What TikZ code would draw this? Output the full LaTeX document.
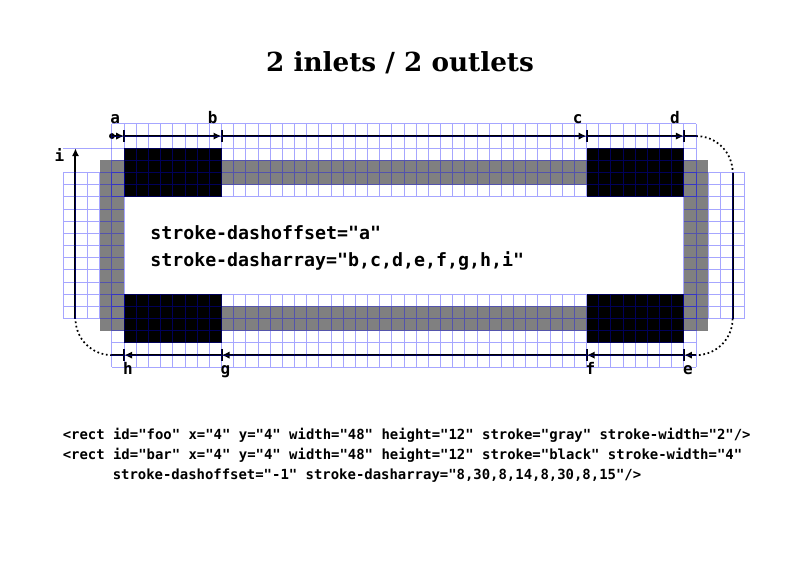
\documentclass[tikz,border=0pt]{standalone}
\usepackage{fontspec}
\newfontfamily\cdfont{DejaVu Sans Mono}
\newfontfamily\ttlfont{DejaVu Serif}
\usetikzlibrary{arrows.meta,positioning}

\begin{document}
\begin{tikzpicture}[
    x=0.75pt, y=-0.75pt,
    >={Latex[length=6pt,width=5.5pt]},
    headline/.style={anchor=base, inner sep=0pt, font=\ttlfont\bfseries\fontsize{19.7}{23}\selectfont},
    dashtext/.style={anchor=base west, inner sep=0pt, font=\cdfont\bfseries\fontsize{13.7}{16}\selectfont},
    codeline/.style={anchor=base west, inner sep=0pt, font=\cdfont\bfseries\fontsize{10.45}{13}\selectfont},
    marklabel/.style={inner sep=0pt, font=\cdfont\bfseries\fontsize{12}{14}\selectfont},
    gridline/.style={draw=blue, draw opacity=0.35, line width=0.75pt},
    dimline/.style={draw=black, line width=1.5pt},
    dimdot/.style={draw=black, line width=1.3pt, dotted},
    tickbar/.style={draw=black, line width=1.5pt}
  ]
  \useasboundingbox (0,0) rectangle (800,566);

  \node[headline] (title) at (400,72) {2 inlets / 2 outlets};

  % grid units: 1 unit = 12.17px
  \begin{scope}[shift={(63.3,123.9)}, x=9.1275pt, y=-9.1275pt]
    % the two strokes
    \draw[gray, line width=18.255pt] (4,4) rectangle (52,16);
    \draw[black, line width=36.51pt,
      dash pattern=on 73.02pt off 273.825pt on 73.02pt off 127.785pt on 73.02pt off 273.825pt on 73.02pt off 136.9125pt,
      dash phase=1095.3pt] (4,4) -- (52,4) -- (52,16) -- (4,16) -- cycle;

    \coordinate (t0) at (4,1);
    \coordinate (t1) at (5,1);
    \coordinate (t2) at (13,1);
    \coordinate (t3) at (43,1);
    \coordinate (t4) at (51,1);
    \coordinate (t5) at (52,1);
    \coordinate (r1) at (55,4);
    \coordinate (r2) at (55,16);
    \coordinate (b0) at (52,19);
    \coordinate (b1) at (51,19);
    \coordinate (b2) at (43,19);
    \coordinate (b3) at (13,19);
    \coordinate (b4) at (5,19);
    \coordinate (b5) at (4,19);
    \coordinate (l1) at (1,16);
    \coordinate (l2) at (1,2);

    % measuring path
    \fill (t0) circle[radius=2.2pt];
    \draw[dimline, ->] (t0) -- (t1);
    \draw[dimline, ->] (t1) -- (t2);
    \draw[dimline, ->] (t2) -- (t3);
    \draw[dimline, ->] (t3) -- (t4);
    \draw[dimline] (t4) -- (t5);
    \draw[dimdot] (t5) arc[start angle=-90, end angle=0, radius=3];
    \draw[dimline] (r1) -- (r2);
    \draw[dimdot] (r2) arc[start angle=0, end angle=90, radius=3];
    \draw[dimline, ->] (b0) -- (b1);
    \draw[dimline, ->] (b1) -- (b2);
    \draw[dimline, ->] (b2) -- (b3);
    \draw[dimline, ->] (b3) -- (b4);
    \draw[dimline] (b4) -- (b5);
    \draw[dimdot] (b5) arc[start angle=90, end angle=180, radius=3];
    \draw[dimline, ->] (l1) -- (l2);
    \foreach \t in {t1,t2,t3,t4,b1,b2,b3,b4}
      \draw[tickbar] ([yshift=4.6pt]\t) -- ([yshift=-4.6pt]\t);

    % grid on top
    \draw[gridline] \foreach \gx in {4,...,52} {(\gx,0) -- (\gx,6)}
                    \foreach \gy in {0,...,6} {(4,\gy) -- (52,\gy)};
    \draw[gridline] \foreach \gx in {4,...,52} {(\gx,14) -- (\gx,20)}
                    \foreach \gy in {14,...,20} {(4,\gy) -- (52,\gy)};
    \draw[gridline] \foreach \gx in {0,...,5} {(\gx,4) -- (\gx,16)}
                    \foreach \gy in {4,...,16} {(0,\gy) -- (5,\gy)};
    \draw[gridline] \foreach \gx in {51,...,56} {(\gx,4) -- (\gx,16)}
                    \foreach \gy in {4,...,16} {(51,\gy) -- (56,\gy)};
    \draw[gridline] (0,2) -- (4,2);

    % labels
    \node[marklabel, anchor=base west] (la) at (3.85,-0.05) {a};
    \node[marklabel, anchor=base west] (lb) at (11.85,-0.05) {b};
    \node[marklabel, anchor=base west] (lc) at (41.85,-0.05) {c};
    \node[marklabel, anchor=base west] (ld) at (49.85,-0.05) {d};
    \node[marklabel, anchor=base west] (le) at (50.9,20.6) {e};
    \node[marklabel, anchor=base west] (lf) at (42.9,20.6) {f};
    \node[marklabel, anchor=base west] (lg) at (12.9,20.6) {g};
    \node[marklabel, anchor=base west] (lh) at (4.9,20.6) {h};
    \node[marklabel, anchor=base east] (li) at (0.1,3.05) {i};
  \end{scope}

  \node[dashtext] (offsettext) at (150,240) {stroke-dashoffset="a"};
  \node[dashtext] (arraytext) at (150,267) {stroke-dasharray="b,c,d,e,f,g,h,i"};

  \node[codeline] (codefoo) at (62.5,439.5) {<rect id="foo" x="4" y="4" width="48" height="12" stroke="gray" stroke-width="2"/>};
  \node[codeline] (codebar) at (62.5,459.5) {<rect id="bar" x="4" y="4" width="48" height="12" stroke="black" stroke-width="4"};
  \node[codeline] (codedash) at (112.5,479.5) {stroke-dashoffset="-1" stroke-dasharray="8,30,8,14,8,30,8,15"/>};
\end{tikzpicture}
\end{document}
